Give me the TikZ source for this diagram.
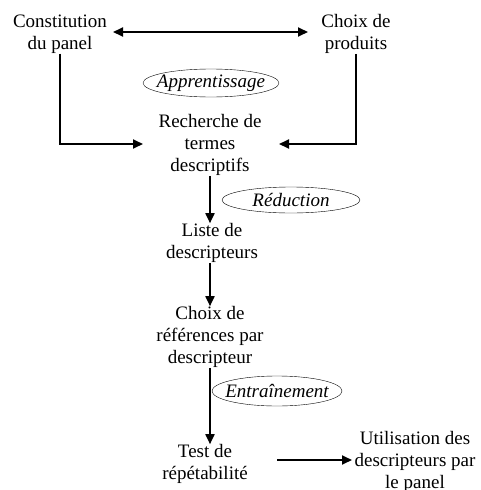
\documentclass[tikz,border=0pt]{standalone}
\usepackage{fontspec}
\setmainfont{Liberation Serif}
\usepackage{tikz}
\usetikzlibrary{arrows.meta,shapes.geometric}

\begin{document}
\begin{tikzpicture}[x=1pt,y=-1pt]
			\tikzset{etape/.style={align=center,inner sep=0pt,font=\fontsize{19}{22}\selectfont}}
			\tikzset{phase/.style={inner sep=0pt,font=\fontsize{19}{22}\selectfont\itshape}}
			\tikzset{fleche/.style={line width=1.8pt,-{Triangle[length=10pt,width=9pt]}}}
			\useasboundingbox (0,0) rectangle (481,490);
			\node[etape] (panel) at (60,34) {Constitution\\du panel};
			\node[etape] (produits) at (356,34) {Choix de\\produits};
			\node[etape] (recherche) at (210,145) {Recherche de\\termes\\descriptifs};
			\node[etape] (liste) at (212,243) {Liste de\\descripteurs};
			\node[etape] (references) at (210,337) {Choix de\\références par\\descripteur};
			\node[etape] (test) at (205,464) {Test de\\répétabilité};
			\node[etape] (utilisation) at (415,462) {Utilisation des\\descripteurs par\\le panel};
			\node[phase] (apprentissage) at (211,83) {Apprentissage};
			\draw[thin] (apprentissage) ellipse [x radius=68pt,y radius=14pt];
			\node[phase] (reduction) at (291,200) {Réduction};
			\draw[thin] (reduction) ellipse [x radius=69pt,y radius=13pt];
			\node[phase] (entrainement) at (277,391) {Entraînement};
			\draw[thin] (entrainement) ellipse [x radius=65pt,y radius=15pt];
			\draw[fleche,{Triangle[length=10pt,width=9pt]}-{Triangle[length=10pt,width=9pt]}] (113,32) -- (308,32);
			\draw[fleche] (panel.south) |- (143,144);
			\draw[fleche] (produits.south) |- (279,144);
			\draw[fleche] (recherche.south) -- (liste.north -| recherche.south);
			\draw[fleche] (liste.south -| recherche.south) -- (references.north -| recherche.south);
			\draw[fleche] (references.south -| recherche.south) -- (test.north -| recherche.south);
			\draw[fleche] (277,460) -- (352,460);
		\end{tikzpicture}
\end{document}
